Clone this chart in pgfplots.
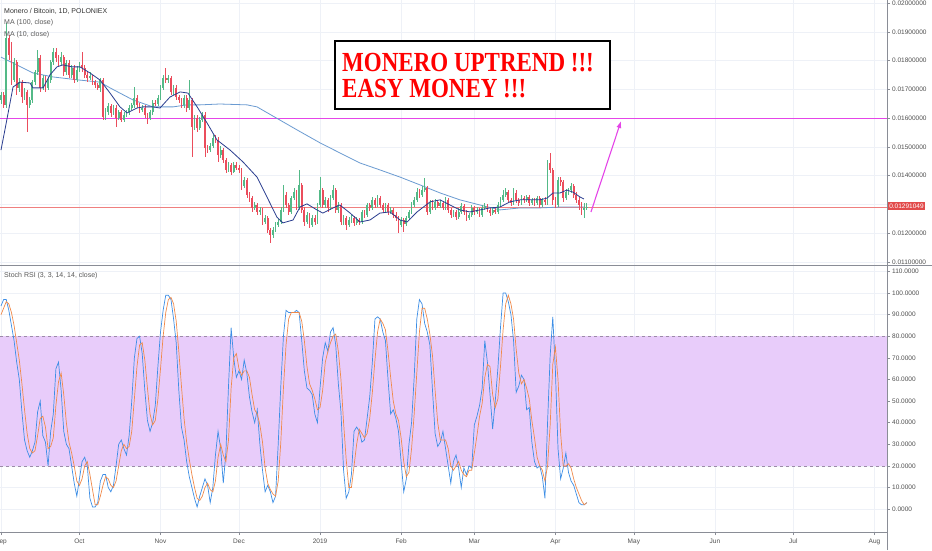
\documentclass[border=0pt]{standalone}
\usepackage{pgfplots}
\pgfplotsset{compat=1.18}
\usepackage{pgfplotstable}
\usepackage{graphicx}
\usepackage{fontspec}
\setmainfont{Liberation Sans}
\newfontfamily\titlefont{Liberation Serif}
\usetikzlibrary{arrows.meta}

\definecolor{upc}{HTML}{53B987}
\definecolor{downc}{HTML}{EB4D5C}
\definecolor{mahund}{HTML}{6B9BD1}
\definecolor{maten}{HTML}{2A3D8F}
\definecolor{kcol}{HTML}{3D8EE6}
\definecolor{dcol}{HTML}{F08A4B}
\definecolor{band}{HTML}{E8CCFA}
\definecolor{bandline}{HTML}{9C8AA8}
\definecolor{magent}{HTML}{E545E8}
\definecolor{lastc}{HTML}{EF7F7F}
\definecolor{lastbox}{HTML}{E24B4B}
\definecolor{gridc}{HTML}{EEF1F7}
\definecolor{axc}{HTML}{8A8D96}
\definecolor{labc}{HTML}{505050}

% daily candles, Sep 1 2018 = day 0
\pgfplotstableread{
d o h l c
0 0.01663 0.01691 0.01649 0.01680
1 0.01680 0.01691 0.01635 0.01646
2 0.01646 0.01931 0.01635 0.01878
3 0.01878 0.01889 0.01802 0.01819
4 0.01819 0.01865 0.01715 0.01732
5 0.01732 0.01809 0.01725 0.01795
6 0.01795 0.01802 0.01680 0.01705
7 0.01705 0.01739 0.01691 0.01725
8 0.01725 0.01732 0.01653 0.01673
9 0.01673 0.01705 0.01663 0.01691
10 0.01691 0.01698 0.01552 0.01646
11 0.01646 0.01673 0.01635 0.01663
12 0.01663 0.01732 0.01653 0.01725
13 0.01725 0.01767 0.01715 0.01760
14 0.01760 0.01837 0.01750 0.01809
15 0.01809 0.01819 0.01691 0.01705
16 0.01705 0.01750 0.01698 0.01739
17 0.01739 0.01746 0.01691 0.01705
18 0.01705 0.01739 0.01698 0.01732
19 0.01732 0.01802 0.01722 0.01795
20 0.01795 0.01844 0.01785 0.01830
21 0.01830 0.01844 0.01795 0.01809
22 0.01809 0.01819 0.01781 0.01795
23 0.01795 0.01830 0.01785 0.01812
24 0.01812 0.01819 0.01746 0.01760
25 0.01760 0.01802 0.01750 0.01792
26 0.01792 0.01802 0.01739 0.01750
27 0.01750 0.01785 0.01739 0.01774
28 0.01774 0.01785 0.01722 0.01732
29 0.01732 0.01781 0.01725 0.01767
30 0.01767 0.01795 0.01760 0.01785
31 0.01785 0.01830 0.01760 0.01774
32 0.01774 0.01785 0.01739 0.01750
33 0.01750 0.01760 0.01725 0.01739
34 0.01739 0.01760 0.01732 0.01746
35 0.01746 0.01750 0.01715 0.01725
36 0.01725 0.01732 0.01705 0.01715
37 0.01715 0.01722 0.01698 0.01705
38 0.01705 0.01739 0.01691 0.01732
39 0.01732 0.01739 0.01593 0.01604
40 0.01604 0.01635 0.01593 0.01621
41 0.01621 0.01653 0.01611 0.01642
42 0.01642 0.01649 0.01604 0.01618
43 0.01618 0.01646 0.01611 0.01635
44 0.01635 0.01646 0.01569 0.01600
45 0.01600 0.01628 0.01593 0.01621
46 0.01621 0.01628 0.01587 0.01593
47 0.01593 0.01621 0.01587 0.01611
48 0.01611 0.01628 0.01604 0.01621
49 0.01621 0.01646 0.01611 0.01635
50 0.01635 0.01653 0.01628 0.01646
51 0.01646 0.01708 0.01635 0.01670
52 0.01670 0.01680 0.01635 0.01646
53 0.01646 0.01653 0.01618 0.01628
54 0.01628 0.01646 0.01621 0.01635
55 0.01635 0.01646 0.01600 0.01611
56 0.01611 0.01618 0.01580 0.01600
57 0.01600 0.01628 0.01593 0.01621
58 0.01621 0.01663 0.01611 0.01653
59 0.01653 0.01663 0.01642 0.01649
60 0.01649 0.01680 0.01642 0.01670
61 0.01670 0.01715 0.01663 0.01705
62 0.01705 0.01750 0.01698 0.01739
63 0.01739 0.01774 0.01722 0.01732
64 0.01732 0.01750 0.01722 0.01739
65 0.01739 0.01746 0.01680 0.01691
66 0.01691 0.01715 0.01680 0.01705
67 0.01705 0.01715 0.01663 0.01673
68 0.01673 0.01680 0.01653 0.01663
69 0.01663 0.01670 0.01635 0.01646
70 0.01646 0.01680 0.01635 0.01670
71 0.01670 0.01680 0.01621 0.01635
72 0.01635 0.01732 0.01628 0.01663
73 0.01663 0.01670 0.01465 0.01569
74 0.01569 0.01611 0.01559 0.01600
75 0.01600 0.01611 0.01552 0.01566
76 0.01566 0.01604 0.01559 0.01593
77 0.01593 0.01621 0.01587 0.01611
78 0.01611 0.01621 0.01465 0.01496
79 0.01496 0.01507 0.01479 0.01489
80 0.01489 0.01514 0.01482 0.01503
81 0.01503 0.01541 0.01496 0.01531
82 0.01531 0.01541 0.01514 0.01524
83 0.01524 0.01534 0.01448 0.01472
84 0.01472 0.01503 0.01461 0.01489
85 0.01489 0.01496 0.01444 0.01455
86 0.01455 0.01461 0.01409 0.01420
87 0.01420 0.01448 0.01413 0.01437
88 0.01437 0.01444 0.01402 0.01413
89 0.01413 0.01448 0.01409 0.01437
90 0.01437 0.01448 0.01420 0.01427
91 0.01427 0.01437 0.01409 0.01420
92 0.01420 0.01427 0.01350 0.01364
93 0.01364 0.01395 0.01357 0.01385
94 0.01385 0.01392 0.01322 0.01333
95 0.01333 0.01343 0.01309 0.01322
96 0.01322 0.01329 0.01274 0.01288
97 0.01288 0.01309 0.01281 0.01298
98 0.01298 0.01305 0.01263 0.01274
99 0.01274 0.01291 0.01263 0.01281
100 0.01281 0.01288 0.01229 0.01239
101 0.01239 0.01263 0.01232 0.01253
102 0.01253 0.01260 0.01201 0.01211
103 0.01211 0.01218 0.01166 0.01194
104 0.01194 0.01222 0.01183 0.01211
105 0.01211 0.01239 0.01204 0.01229
106 0.01229 0.01249 0.01222 0.01239
107 0.01239 0.01291 0.01232 0.01281
108 0.01281 0.01368 0.01274 0.01333
109 0.01333 0.01343 0.01288 0.01298
110 0.01298 0.01305 0.01263 0.01274
111 0.01274 0.01329 0.01267 0.01322
112 0.01322 0.01357 0.01316 0.01343
113 0.01343 0.01350 0.01281 0.01288
114 0.01288 0.01420 0.01281 0.01368
115 0.01368 0.01375 0.01270 0.01281
116 0.01281 0.01291 0.01225 0.01239
117 0.01239 0.01274 0.01232 0.01263
118 0.01263 0.01270 0.01218 0.01229
119 0.01229 0.01263 0.01222 0.01253
120 0.01253 0.01263 0.01229 0.01239
121 0.01239 0.01305 0.01232 0.01298
122 0.01298 0.01395 0.01291 0.01350
123 0.01350 0.01357 0.01288 0.01298
124 0.01298 0.01326 0.01288 0.01316
125 0.01316 0.01322 0.01274 0.01288
126 0.01288 0.01333 0.01281 0.01322
127 0.01322 0.01368 0.01316 0.01350
128 0.01350 0.01357 0.01270 0.01281
129 0.01281 0.01309 0.01270 0.01298
130 0.01298 0.01305 0.01229 0.01239
131 0.01239 0.01263 0.01229 0.01253
132 0.01253 0.01260 0.01211 0.01229
133 0.01229 0.01256 0.01222 0.01246
134 0.01246 0.01263 0.01236 0.01253
135 0.01253 0.01260 0.01225 0.01236
136 0.01236 0.01256 0.01229 0.01246
137 0.01246 0.01253 0.01229 0.01239
138 0.01239 0.01281 0.01232 0.01274
139 0.01274 0.01281 0.01253 0.01263
140 0.01263 0.01305 0.01256 0.01298
141 0.01298 0.01305 0.01277 0.01288
142 0.01288 0.01326 0.01281 0.01316
143 0.01316 0.01322 0.01288 0.01298
144 0.01298 0.01333 0.01291 0.01322
145 0.01322 0.01329 0.01288 0.01298
146 0.01298 0.01305 0.01270 0.01281
147 0.01281 0.01305 0.01274 0.01298
148 0.01298 0.01305 0.01263 0.01274
149 0.01274 0.01291 0.01267 0.01281
150 0.01281 0.01288 0.01253 0.01263
151 0.01263 0.01274 0.01243 0.01253
152 0.01253 0.01260 0.01201 0.01229
153 0.01229 0.01256 0.01222 0.01246
154 0.01246 0.01253 0.01204 0.01232
155 0.01232 0.01260 0.01225 0.01253
156 0.01253 0.01281 0.01246 0.01274
157 0.01274 0.01309 0.01267 0.01298
158 0.01298 0.01326 0.01291 0.01316
159 0.01316 0.01357 0.01309 0.01343
160 0.01343 0.01354 0.01322 0.01333
161 0.01333 0.01364 0.01326 0.01350
162 0.01350 0.01392 0.01343 0.01357
163 0.01357 0.01364 0.01263 0.01274
164 0.01274 0.01316 0.01267 0.01305
165 0.01305 0.01316 0.01281 0.01288
166 0.01288 0.01319 0.01281 0.01309
167 0.01309 0.01316 0.01288 0.01295
168 0.01295 0.01316 0.01288 0.01305
169 0.01305 0.01312 0.01281 0.01288
170 0.01288 0.01326 0.01281 0.01316
171 0.01316 0.01322 0.01270 0.01281
172 0.01281 0.01288 0.01253 0.01263
173 0.01263 0.01281 0.01256 0.01274
174 0.01274 0.01281 0.01246 0.01256
175 0.01256 0.01288 0.01249 0.01274
176 0.01274 0.01305 0.01267 0.01295
177 0.01295 0.01302 0.01263 0.01274
178 0.01274 0.01281 0.01243 0.01253
179 0.01253 0.01270 0.01246 0.01263
180 0.01263 0.01298 0.01256 0.01288
181 0.01288 0.01295 0.01263 0.01274
182 0.01274 0.01291 0.01267 0.01281
183 0.01281 0.01288 0.01256 0.01263
184 0.01263 0.01298 0.01256 0.01288
185 0.01288 0.01305 0.01281 0.01295
186 0.01295 0.01302 0.01274 0.01281
187 0.01281 0.01288 0.01260 0.01270
188 0.01270 0.01291 0.01263 0.01281
189 0.01281 0.01288 0.01267 0.01274
190 0.01274 0.01309 0.01267 0.01298
191 0.01298 0.01326 0.01291 0.01316
192 0.01316 0.01350 0.01309 0.01333
193 0.01333 0.01357 0.01326 0.01343
194 0.01343 0.01350 0.01305 0.01316
195 0.01316 0.01322 0.01295 0.01305
196 0.01305 0.01357 0.01298 0.01340
197 0.01340 0.01350 0.01305 0.01316
198 0.01316 0.01322 0.01295 0.01305
199 0.01305 0.01333 0.01298 0.01322
200 0.01322 0.01329 0.01305 0.01316
201 0.01316 0.01333 0.01309 0.01326
202 0.01326 0.01333 0.01295 0.01305
203 0.01305 0.01322 0.01298 0.01316
204 0.01316 0.01322 0.01295 0.01305
205 0.01305 0.01329 0.01298 0.01322
206 0.01322 0.01329 0.01288 0.01298
207 0.01298 0.01322 0.01291 0.01316
208 0.01316 0.01326 0.01298 0.01309
209 0.01309 0.01455 0.01298 0.01444
210 0.01444 0.01479 0.01409 0.01420
211 0.01420 0.01427 0.01298 0.01316
212 0.01316 0.01326 0.01288 0.01298
213 0.01298 0.01395 0.01291 0.01385
214 0.01385 0.01395 0.01364 0.01378
215 0.01378 0.01385 0.01309 0.01322
216 0.01322 0.01354 0.01316 0.01343
217 0.01343 0.01357 0.01333 0.01350
218 0.01350 0.01375 0.01340 0.01364
219 0.01364 0.01371 0.01322 0.01333
220 0.01333 0.01343 0.01305 0.01316
221 0.01316 0.01326 0.01281 0.01298
222 0.01298 0.01309 0.01263 0.01281
223 0.01281 0.01305 0.01253 0.01288
224 0.01288 0.01305 0.01281 0.01291
}\candles

% Stoch RSI: k = %K, dv = %D
\pgfplotstableread{
d k dv
0 94 90
1 97 93
2 97 96
3 92 95
4 85 91
5 78 85
6 68 77
7 60 69
8 45 58
9 32 46
10 27 35
11 24 28
12 27 26
13 31 27
14 45 34
15 50 42
16 34 43
17 31 38
18 20 28
19 36 29
20 44 33
21 65 48
22 68 59
23 55 63
24 36 53
25 30 40
26 28 31
27 20 26
28 12 20
29 6 13
30 14 11
31 22 14
32 24 20
33 20 22
34 5 16
35 1 9
36 1 2
37 3 2
38 13 6
39 16 11
40 16 15
41 10 14
42 8 11
43 11 10
44 20 13
45 30 20
46 32 27
47 28 30
48 25 28
49 34 29
50 50 36
51 70 51
52 79 66
53 80 76
54 72 77
55 55 69
56 41 56
57 36 44
58 40 39
59 48 41
60 66 51
61 82 65
62 92 80
63 99 91
64 99 97
65 97 98
66 88 95
67 77 87
68 55 73
69 38 57
70 32 42
71 22 31
72 15 23
73 10 16
74 5 10
75 1 5
76 6 4
77 10 6
78 14 10
79 11 12
80 3 9
81 10 8
82 25 13
83 36 24
84 28 30
85 12 25
86 26 22
87 57 32
88 84 56
89 70 70
90 61 72
91 64 65
92 60 62
93 69 64
94 63 64
95 52 61
96 45 53
97 40 46
98 46 44
99 30 39
100 18 31
101 8 19
102 11 12
103 8 9
104 3 7
105 6 6
106 30 13
107 57 31
108 80 56
109 92 76
110 91 88
111 91 91
112 91 91
113 92 91
114 91 91
115 78 87
116 64 78
117 56 66
118 55 58
119 53 55
120 44 51
121 40 46
122 56 47
123 70 55
124 77 68
125 73 73
126 82 77
127 84 80
128 76 81
129 58 73
130 45 60
131 18 40
132 5 23
133 8 10
134 16 10
135 36 20
136 38 30
137 36 37
138 31 35
139 32 33
140 42 35
141 52 42
142 68 54
143 88 69
144 89 82
145 88 88
146 82 86
147 78 83
148 60 73
149 44 61
150 46 50
151 42 44
152 36 41
153 22 33
154 8 22
155 14 15
156 30 17
157 40 28
158 61 44
159 88 63
160 97 82
161 95 93
162 86 93
163 82 88
164 76 81
165 55 71
166 35 55
167 29 40
168 31 32
169 36 32
170 28 32
171 20 28
172 12 20
173 22 18
174 25 20
175 19 22
176 10 18
177 19 16
178 16 15
179 20 18
180 19 18
181 39 26
182 43 34
183 48 43
184 56 49
185 78 61
186 68 67
187 53 66
188 37 53
189 50 47
190 65 51
191 84 66
192 100 83
193 100 95
194 96 99
195 90 95
196 78 88
197 54 74
198 57 63
199 62 58
200 60 60
201 46 56
202 47 51
203 31 41
204 22 33
205 19 24
206 20 20
207 15 18
208 5 13
209 40 20
210 71 39
211 89 67
212 64 75
213 28 60
214 14 35
215 19 20
216 26 20
217 17 21
218 13 19
219 11 14
220 7 10
221 3 7
222 2 4
223 2 2
224 3 3
}\stochrsi

\pgfplotsset{
  tvbase/.style={
    scale only axis, width=887pt,
    xmin=-0.38, xmax=338.8,
    axis line style={draw=none},
    xtick={0,30,61,91,122,153,181,212,242,273,303,334},
    grid=major, major grid style={gridc, line width=0.5pt},
    ytick pos=right, yticklabel pos=right,
    tick align=outside, major tick length=3pt,
    tick style={axc, line width=0.5pt},
    yticklabel style={font=\fontsize{6.5}{7}\selectfont, text=labc, anchor=west, inner sep=0pt, xshift=2pt},
    xticklabel style={font=\fontsize{6.5}{7}\selectfont, text=labc},
    scaled y ticks=false,
  },
  candle/.style={draw=none, mark=none, forget plot,
    error bars/y dir=both, error bars/y explicit, error bars/error mark=none},
}

\begin{document}
\begin{tikzpicture}[x=1pt, y=1pt]
\fill[white] (0pt,0pt) rectangle (932pt,550pt);

% price panel
\begin{axis}[tvbase,
  at={(0pt,285pt)}, anchor=south west, height=265pt,
  ymin=0.010896, ymax=0.020104,
  xticklabels={}, xtick style={draw=none},
  ytick={0.011,0.012,0.014,0.015,0.016,0.017,0.018,0.019,0.020},
  extra y ticks={0.013}, extra y tick labels={},
  extra y tick style={grid=major},
  yticklabel style={/pgf/number format/.cd, fixed, fixed zerofill, precision=8, assume math mode=true},
]
% last price and target line
\addplot[lastc, line width=0.7pt] coordinates {(-0.38,0.01291049) (338.8,0.01291049)};
\addplot[magent, line width=1.3pt] coordinates {(-0.38,0.01598) (338.8,0.01598)};
% moving averages
\addplot[mahund, line width=0.8pt] coordinates {
(0,0.01812) (12.2,0.01757) (19.9,0.01743) (30.2,0.01732) (37.9,0.01725) (41.7,0.01705)
(50.5,0.01663) (58.1,0.01639) (65.8,0.01639) (71.1,0.01646) (76.1,0.01646) (83.7,0.01649)
(94.1,0.01646) (97.9,0.01639) (106.7,0.01593) (113.2,0.01559) (122,0.01514) (129.6,0.01479)
(137.3,0.01444) (144.9,0.01420) (152.6,0.01395) (160.2,0.01368) (167.9,0.01340) (175.5,0.01316)
(183.2,0.01298) (190.8,0.01281) (198.5,0.01288) (206.1,0.01288) (213.8,0.01291) (222.9,0.01291)
};
% candles: wicks then bodies
\addplot[candle, restrict expr to domain={\thisrow{c}-\thisrow{o}}{0:1},
  error bars/error bar style={draw=upc, solid, line width=0.6pt}]
  table[x=d, y expr={(\thisrow{h}+\thisrow{l})/2}, y error expr={(\thisrow{h}-\thisrow{l})/2}] {\candles};
\addplot[candle, restrict expr to domain={\thisrow{c}-\thisrow{o}}{-1:0},
  error bars/error bar style={draw=downc, solid, line width=0.6pt}]
  table[x=d, y expr={(\thisrow{h}+\thisrow{l})/2}, y error expr={(\thisrow{h}-\thisrow{l})/2}] {\candles};
\addplot[candle, restrict expr to domain={\thisrow{c}-\thisrow{o}}{0:1},
  error bars/error bar style={draw=upc, solid, line width=1.8pt}]
  table[x=d, y expr={(\thisrow{o}+\thisrow{c})/2}, y error expr={abs(\thisrow{c}-\thisrow{o})/2+0.000008}] {\candles};
\addplot[candle, restrict expr to domain={\thisrow{c}-\thisrow{o}}{-1:0},
  error bars/error bar style={draw=downc, solid, line width=1.8pt}]
  table[x=d, y expr={(\thisrow{o}+\thisrow{c})/2}, y error expr={abs(\thisrow{c}-\thisrow{o})/2+0.000008}] {\candles};
\addplot[maten, line width=0.8pt] coordinates {
(0,0.01489) (1.5,0.01559) (4.6,0.01708) (7.3,0.01725) (11.1,0.01722) (12.2,0.01705) (16.1,0.01705)
(18.7,0.01750) (21.4,0.01778) (23.7,0.01785) (27.2,0.01778) (30.2,0.01778) (34,0.01757)
(37.9,0.01732) (41.7,0.01687) (45.5,0.01639) (48.2,0.01618) (52,0.01635) (54.3,0.01639)
(58.1,0.01639) (60.8,0.01635) (64.6,0.01673) (68.5,0.01691) (71.5,0.01687) (75,0.01639)
(78.8,0.01583) (82.6,0.01524) (87.6,0.01489) (92.5,0.01448) (97.9,0.01395) (101.7,0.01326)
(105.5,0.01256) (107.8,0.01236) (111.7,0.01246) (114.3,0.01291) (117,0.01302) (120.8,0.01281)
(123.1,0.01270) (127,0.01288) (129.6,0.01298) (133.5,0.01270) (137.3,0.01239) (141.1,0.01246)
(144.9,0.01270) (148.8,0.01274) (152.6,0.01246) (155.3,0.01239) (159.1,0.01274) (164.1,0.01309)
(167.9,0.01316) (171.7,0.01298) (175.5,0.01281) (179.3,0.01274) (183.2,0.01281) (187,0.01288)
(190.8,0.01291) (194.6,0.01309) (198.5,0.01316) (206.1,0.01316) (208.8,0.01322) (211.1,0.01340)
(213.8,0.01340) (216.4,0.01350) (218.7,0.01343) (221.4,0.01326) (222.9,0.01319)
};
% drawn arrow
\addplot[magent, line width=1.1pt, -{Latex[length=7pt, width=5pt]}] coordinates {(225.6,0.01274) (237.1,0.01590)};
\end{axis}

% stoch RSI panel
\begin{axis}[tvbase,
  at={(0pt,18pt)}, anchor=south west, height=267pt,
  ymin=-10.6, ymax=113,
  xtick pos=bottom,
  xticklabels={Sep,Oct,Nov,Dec,2019,Feb,Mar,Apr,May,Jun,Jul,Aug},
  ytick={0,10,20,30,40,50,60,70,80,90,100,110},
  yticklabel style={/pgf/number format/.cd, fixed, fixed zerofill, precision=4, assume math mode=true},
]
\addplot[draw=none, fill=band] coordinates {(-0.38,20) (338.8,20) (338.8,80) (-0.38,80)} -- cycle;
\addplot[bandline, dashed, line width=0.6pt] coordinates {(-0.38,80) (338.8,80)};
\addplot[bandline, dashed, line width=0.6pt] coordinates {(-0.38,20) (338.8,20)};
\addplot[kcol, line width=0.7pt] table[x=d, y=k] {\stochrsi};
\addplot[dcol, line width=0.7pt] table[x=d, y=dv] {\stochrsi};
\end{axis}

% panel frame
\draw[axc, line width=0.7pt] (887,0) -- (887,550);
\draw[axc, line width=0.7pt] (0,285) -- (932,285);
\draw[axc, line width=0.7pt] (0,18) -- (887,18);

% last price tag
\node[fill=lastbox, text=white, anchor=west, inner sep=1.6pt, font=\fontsize{6.5}{7}\selectfont] at (887.5,344) {0.01291049};

% pane legends
\node[anchor=west, inner sep=0pt, text=black!80, font=\fontsize{7}{8}\selectfont] at (4,539) {Monero / Bitcoin, 1D, POLONIEX};
\node[anchor=west, inner sep=0pt, text=black!65, font=\fontsize{7}{8}\selectfont] at (4,527) {MA (100, close)};
\node[anchor=west, inner sep=0pt, text=black!65, font=\fontsize{7}{8}\selectfont] at (4,515) {MA (10, close)};
\node[anchor=west, inner sep=0pt, text=black!65, font=\fontsize{7}{8}\selectfont] at (4,274) {Stoch RSI (3, 3, 14, 14, close)};

% annotation box
\draw[black, line width=1.5pt, fill=white] (335,441) rectangle (610,509);
\node[anchor=base west, inner sep=0pt, text=red, font=\titlefont\bfseries\fontsize{23}{26}\selectfont] at (342,478) {\scalebox{1}[1.2]{MONERO UPTREND !!!}};
\node[anchor=base west, inner sep=0pt, text=red, font=\titlefont\bfseries\fontsize{23}{26}\selectfont] at (342,452) {\scalebox{1}[1.2]{EASY MONEY !!!}};

% page = the chart area
\pgfresetboundingbox
\path[use as bounding box] (0,0) rectangle (932,550);
\end{tikzpicture}
\end{document}
